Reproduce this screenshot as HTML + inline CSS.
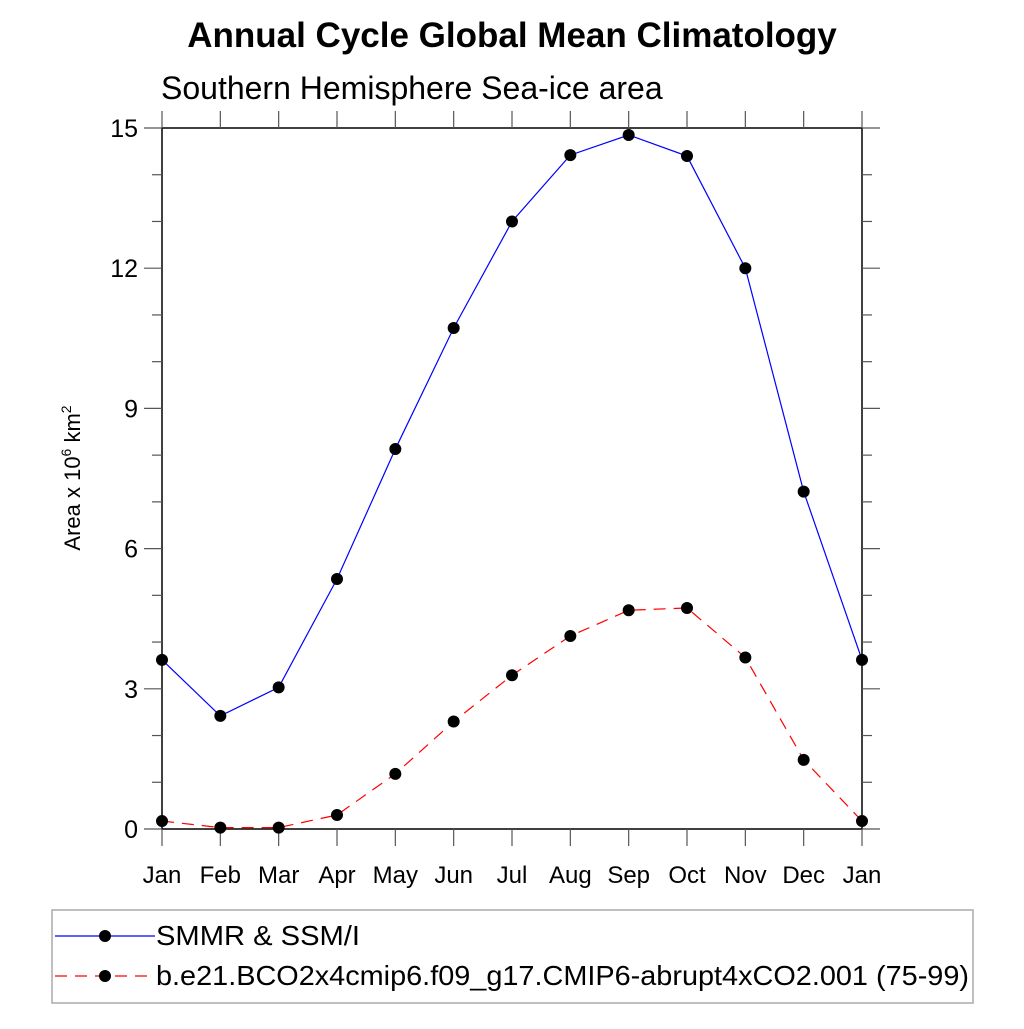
<!DOCTYPE html>
<html><head><meta charset="utf-8"><style>
body{margin:0;background:#fff;}
svg text{font-family:"Liberation Sans",sans-serif;}
</style></head><body>
<svg id="chart" width="1024" height="1024" xmlns="http://www.w3.org/2000/svg">
<rect width="1024" height="1024" fill="#fff"/>
<text x="512" y="47" font-size="35" font-weight="bold" text-anchor="middle">Annual Cycle Global Mean Climatology</text>
<text x="161" y="99" font-size="32">Southern Hemisphere Sea-ice area</text>
<text transform="translate(80,478) rotate(-90)" font-size="22" text-anchor="middle">Area x 10<tspan dy="-9" font-size="14">6</tspan><tspan dy="9"> km</tspan><tspan dy="-9" font-size="14">2</tspan></text>
<g id="axes"></g>
<g id="series"></g>
<g>
<rect x="52" y="910" width="921" height="93" fill="none" stroke="#aaa" stroke-width="1.5"/>
<g>
<line x1="55" y1="936" x2="155" y2="936" stroke="#00f" stroke-width="1.2"/>
<circle cx="105" cy="936" r="6" fill="#000"/>
<text x="156" y="945" font-size="28" textLength="204" lengthAdjust="spacingAndGlyphs">SMMR &amp; SSM/I</text></g>
<g>
<line x1="55" y1="976" x2="155" y2="976" stroke="#f00" stroke-width="1.2" stroke-dasharray="12,8"/>
<circle cx="105" cy="976" r="6" fill="#000"/>
<text x="156" y="985" font-size="28" textLength="813" lengthAdjust="spacingAndGlyphs">b.e21.BCO2x4cmip6.f09_g17.CMIP6-abrupt4xCO2.001 (75-99)</text></g>
</g>
</svg>
<script>
const months=["Jan","Feb","Mar","Apr","May","Jun","Jul","Aug","Sep","Oct","Nov","Dec","Jan"];
const obsValues=[3.62,2.42,3.03,5.35,8.13,10.72,13.0,14.42,14.85,14.4,12.0,7.22,3.62];
const modelValues=[0.17,0.03,0.03,0.3,1.18,2.3,3.29,4.13,4.68,4.73,3.67,1.48,0.17];
const yTicks=[0,3,6,9,12,15];
const NS="http://www.w3.org/2000/svg";
const L=162,R=862,T=128,B=829,yMax=15;
function xs(i){return L+(R-L)*i/(months.length-1);}
function ys(v){return B-(B-T)*v/yMax;}
function mk(tag,attrs,parent){const e=document.createElementNS(NS,tag);for(const k in attrs)e.setAttribute(k,attrs[k]);parent.appendChild(e);return e;}
const ax=document.getElementById('axes');
const frame=mk('rect',{x:L,y:T,width:R-L,height:B-T,fill:'none',stroke:'#000','stroke-width':1.5},ax);


for(let v=0;v<=yMax;v+=1){
  const major=yTicks.includes(v);const y=ys(v);const len=major?18:10;
  mk('line',{x1:L-len,y1:y,x2:L,y2:y,stroke:'#555','stroke-width':1.2},ax);
  mk('line',{x1:R,y1:y,x2:R+len,y2:y,stroke:'#555','stroke-width':1.2},ax);
}
yTicks.forEach(v=>{
  const t=mk('text',{x:L-24,y:ys(v)+9,'font-size':25,'text-anchor':'end'},ax);
  t.textContent=v;
  
  
});
months.forEach((m,i)=>{
  const x=xs(i);
  mk('line',{x1:x,y1:B,x2:x,y2:B+17,stroke:'#555','stroke-width':1.2},ax);
  mk('line',{x1:x,y1:T-17,x2:x,y2:T,stroke:'#555','stroke-width':1.2},ax);
  const t=mk('text',{x:x,y:883,'font-size':24,'text-anchor':'middle'},ax);
  t.textContent=m;
  
  
});
const sg=document.getElementById('series');
function drawSeries(vals,color,dash,name){
  const g=mk('g',{},sg);
  
  
  const pts=vals.map((v,i)=>xs(i)+','+ys(v)).join(' ');
  const attrs={points:pts,fill:'none',stroke:color,'stroke-width':1.2};
  if(dash)attrs['stroke-dasharray']=dash;
  mk('polyline',attrs,g);
  vals.forEach((v,i)=>{
    const c=mk('circle',{cx:xs(i),cy:ys(v),r:6,fill:'#000'},g);
    
    
  });
}
drawSeries(obsValues,'#00f',null,'series-smmr-ssmi');
drawSeries(modelValues,'#f00','12,8','series-abrupt4xco2');
</script>
</body></html>
